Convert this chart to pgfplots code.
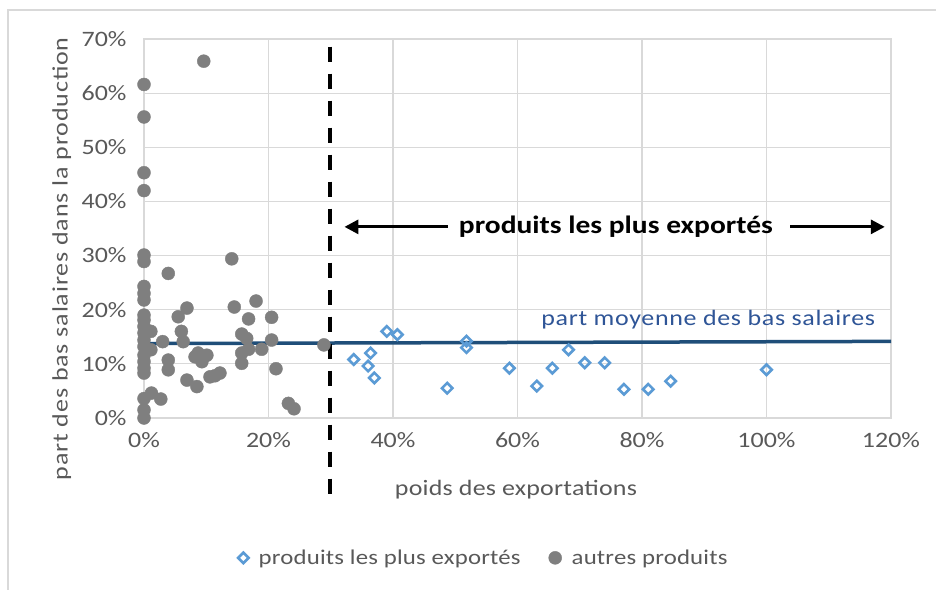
\documentclass[border=0pt]{standalone}
\usepackage{pgfplots}
\pgfplotsset{compat=1.18}
\usepackage{fontspec}
\setmainfont{Carlito}[FakeStretch=1.18]
\usetikzlibrary{arrows.meta}
\definecolor{gridc}{HTML}{D9D9D9}
\definecolor{txt}{HTML}{595959}
\definecolor{bluem}{HTML}{5B9BD5}
\definecolor{graym}{HTML}{7F7F7F}
\definecolor{meanc}{HTML}{1F4E79}
\definecolor{meantxt}{HTML}{2F5597}
\pgfplotstableread{
x y
0 61.6
0 55.6
0 45.3
0 42.0
0 30.1
0 28.9
0 24.3
0 23.0
0 21.8
0 19.0
0 18.1
0 16.9
0 15.7
0 14.4
0 13.2
0 11.6
0 10.4
0 9.2
0 8.3
0 3.6
0 1.5
0 0.0
9.6 65.9
14.1 29.4
3.9 26.7
6.9 20.3
5.5 18.7
1.1 16.0
6.0 16.0
3.0 14.1
6.3 14.1
1.1 12.6
3.9 10.7
3.9 8.9
8.2 11.3
8.7 12.0
10.1 11.6
9.3 10.4
6.9 7.0
8.5 5.8
10.6 7.6
11.4 7.8
12.2 8.3
1.2 4.6
2.7 3.5
14.5 20.5
18.0 21.6
16.8 18.3
20.5 18.6
15.7 15.5
16.5 14.7
20.5 14.4
15.7 12.0
16.8 12.7
18.9 12.7
15.7 10.1
21.2 9.1
28.9 13.5
23.2 2.7
24.1 1.7
}\autres
\pgfplotstableread{
x y
33.7 10.8
36.4 12.0
36.0 9.6
37.0 7.4
39.0 16.0
40.7 15.4
48.7 5.5
51.8 14.2
51.8 13.0
58.7 9.2
63.1 5.9
65.6 9.2
68.2 12.6
70.8 10.2
74.0 10.2
77.1 5.3
81.0 5.3
84.6 6.8
100.0 8.9
}\plusexp
\begin{document}
\begin{tikzpicture}
\useasboundingbox (0,0) rectangle (936bp,590bp);
\fill[white] (0,0) rectangle (936bp,590bp);
\draw[gridc, line width=1.5bp] (8bp,0) -- (8bp,580bp) -- (936bp,580bp);
\begin{axis}[
  at={(144bp,172bp)}, anchor=south west,
  scale only axis, width=747bp, height=379bp,
  xmin=0, xmax=120, ymin=0, ymax=70,
  xtick={0,20,...,120}, ytick={0,10,...,70},
  grid=major, major grid style={gridc, line width=1.2bp},
  axis line style={gridc, line width=1.2bp},
  tick style={draw=none},
  /pgf/number format/assume math mode=true,
  xticklabel={\pgfmathprintnumber{\tick}\%},
  yticklabel={\pgfmathprintnumber{\tick}\%},
  ticklabel style={font=\fontsize{22bp}{24bp}\selectfont, text=txt},
  xticklabel style={yshift=-11bp},
  yticklabel style={xshift=-14bp},
  clip=false,
  xlabel={poids des exportations},
  ylabel={part des bas salaires dans la production},
  label style={font=\fontsize{22bp}{24bp}\selectfont\addfontfeature{LetterSpace=1}, text=txt},
  xlabel style={at={(axis description cs:0.498,-0.19)}, anchor=center},
  ylabel style={at={(axis description cs:-0.11,0.42)}, anchor=center, font=\fontsize{22bp}{24bp}\selectfont\addfontfeature{LetterSpace=4}},
  legend columns=2,
  legend style={at={(axis description cs:0.455,-0.369)}, anchor=center, draw=none, fill=none,
    font=\fontsize{21bp}{24bp}\selectfont\addfontfeature{LetterSpace=1}, text=txt,
    /tikz/every odd column/.append style={column sep=8bp},
    /tikz/every even column/.append style={column sep=26bp}},
  legend cell align=left,
]
\addlegendimage{only marks, mark=square, mark size=3.7bp, bluem, line width=2.6bp, fill=white, every mark/.append style={rotate=45}}
\addlegendentry{produits les plus exportés}
\addlegendimage{only marks, mark=*, mark size=6.5bp, graym, fill=graym}
\addlegendentry{autres produits}
\addplot[forget plot, only marks, mark=*, mark size=6.5bp, draw=graym, fill=graym] table[x=x,y=y] {\autres};
\addplot[forget plot, meanc, line width=3.5bp] coordinates {(0,13.75) (120,14.15)};
\addplot[forget plot, only marks, mark=square, mark size=3.7bp, bluem, line width=2.6bp,
  mark options={fill=white, rotate=45}] table[x=x,y=y] {\plusexp};
\draw[black, line width=3.5bp, dash pattern=on 15bp off 12bp] (axis cs:29.9,68.6) -- (axis cs:29.9,-16.1);
\draw[black, line width=3bp, -{Triangle[length=14bp,width=14bp]}] (axis cs:48.8,35.3) -- (axis cs:32.2,35.3);
\draw[black, line width=3bp, -{Triangle[length=14bp,width=14bp]}] (axis cs:103.8,35.3) -- (axis cs:119.0,35.3);
\node[font=\fontsize{25bp}{30bp}\selectfont\bfseries, text=black, anchor=center] at (axis cs:75.8,35.3) {produits les plus exportés};
\node[font=\fontsize{22bp}{24bp}\selectfont\addfontfeature{LetterSpace=3}, text=meantxt, anchor=east] at (axis cs:118.0,18.1) {part moyenne des bas salaires};
\end{axis}
\end{tikzpicture}
\end{document}
